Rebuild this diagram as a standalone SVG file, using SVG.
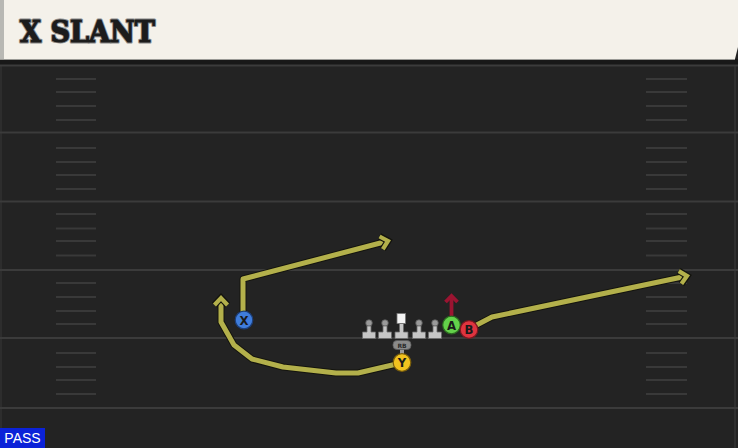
<svg xmlns="http://www.w3.org/2000/svg" width="738" height="448" viewBox="0 0 738 448">
<style>
.yard{stroke:#3b3b3b;stroke-width:2}
.hash{stroke:#393939;stroke-width:2}
.routeU{fill:none;stroke:#14140e;stroke-width:7;stroke-linejoin:round}
.route{fill:none;stroke:#b3b04b;stroke-width:5;stroke-linejoin:round}
.lbl{font-family:"DejaVu Sans Condensed","DejaVu Sans","Liberation Sans",sans-serif;font-weight:bold;font-size:13px;fill:#1a1a1a;text-anchor:middle}
.lm{fill:#c6c6c6;stroke:#6a6a6a;stroke-width:0.8}
</style>
<defs>
<marker id="arrO" viewBox="-12 -12 24 24" markerUnits="userSpaceOnUse" markerWidth="24" markerHeight="24" refX="0" refY="0" orient="auto" overflow="visible">
<path d="M-7,-6.5 L0,0 L-7,6.5" fill="none" stroke="#14140e" stroke-width="6.5" stroke-linejoin="miter"/>
<path d="M-7,-6.5 L0,0 L-7,6.5" fill="none" stroke="#b3b04b" stroke-width="4.2" stroke-linejoin="miter"/>
</marker>
<marker id="arrR" viewBox="-10 -10 20 20" markerUnits="userSpaceOnUse" markerWidth="20" markerHeight="20" refX="0" refY="0" orient="auto" overflow="visible">
<path d="M-6,-6 L0,0 L-6,6" fill="none" stroke="#9b1431" stroke-width="3.8" stroke-linejoin="miter"/>
</marker>
</defs>
<rect width="738" height="448" fill="#232323"/>
<rect x="0" y="59" width="738" height="6" fill="#181818"/>
<line x1="1" y1="65" x2="1" y2="448" stroke="#2d2d2d" stroke-width="2"/>
<line x1="735" y1="65" x2="735" y2="448" stroke="#2f2f2f" stroke-width="2"/>
<g id="field">
<line class="yard" x1="0" y1="65.5" x2="738" y2="65.5"/>
<line class="yard" x1="0" y1="132.5" x2="738" y2="132.5"/>
<line class="yard" x1="0" y1="201.5" x2="738" y2="201.5"/>
<line class="yard" x1="0" y1="270" x2="738" y2="270"/>
<line class="yard" x1="0" y1="338" x2="738" y2="338"/>
<line class="yard" x1="0" y1="408" x2="738" y2="408"/>
<g id="hashes-left">
<line class="hash" x1="56" y1="79" x2="96" y2="79"/><line class="hash" x1="56" y1="92" x2="96" y2="92"/><line class="hash" x1="56" y1="106" x2="96" y2="106"/><line class="hash" x1="56" y1="120" x2="96" y2="120"/>
<line class="hash" x1="56" y1="148" x2="96" y2="148"/><line class="hash" x1="56" y1="162" x2="96" y2="162"/><line class="hash" x1="56" y1="175" x2="96" y2="175"/><line class="hash" x1="56" y1="189" x2="96" y2="189"/>
<line class="hash" x1="56" y1="214" x2="96" y2="214"/><line class="hash" x1="56" y1="228.5" x2="96" y2="228.5"/><line class="hash" x1="56" y1="241" x2="96" y2="241"/><line class="hash" x1="56" y1="255.5" x2="96" y2="255.5"/>
<line class="hash" x1="56" y1="283" x2="96" y2="283"/><line class="hash" x1="56" y1="297" x2="96" y2="297"/><line class="hash" x1="56" y1="311" x2="96" y2="311"/><line class="hash" x1="56" y1="324" x2="96" y2="324"/>
<line class="hash" x1="56" y1="353" x2="96" y2="353"/><line class="hash" x1="56" y1="367" x2="96" y2="367"/><line class="hash" x1="56" y1="380" x2="96" y2="380"/><line class="hash" x1="56" y1="394" x2="96" y2="394"/>
</g>
<g id="hashes-right">
<line class="hash" x1="646" y1="79" x2="687" y2="79"/><line class="hash" x1="646" y1="92" x2="687" y2="92"/><line class="hash" x1="646" y1="106" x2="687" y2="106"/><line class="hash" x1="646" y1="120" x2="687" y2="120"/>
<line class="hash" x1="646" y1="148" x2="687" y2="148"/><line class="hash" x1="646" y1="162" x2="687" y2="162"/><line class="hash" x1="646" y1="175" x2="687" y2="175"/><line class="hash" x1="646" y1="189" x2="687" y2="189"/>
<line class="hash" x1="646" y1="214" x2="687" y2="214"/><line class="hash" x1="646" y1="228.5" x2="687" y2="228.5"/><line class="hash" x1="646" y1="241" x2="687" y2="241"/><line class="hash" x1="646" y1="255.5" x2="687" y2="255.5"/>
<line class="hash" x1="646" y1="283" x2="687" y2="283"/><line class="hash" x1="646" y1="297" x2="687" y2="297"/><line class="hash" x1="646" y1="311" x2="687" y2="311"/><line class="hash" x1="646" y1="324" x2="687" y2="324"/>
<line class="hash" x1="646" y1="353" x2="687" y2="353"/><line class="hash" x1="646" y1="367" x2="687" y2="367"/><line class="hash" x1="646" y1="380" x2="687" y2="380"/><line class="hash" x1="646" y1="394" x2="687" y2="394"/>
</g>
</g>
<g id="header">
<path d="M0,0 H738 V47 L735,59 H0 Z" fill="#f4f1ea"/>
<rect x="0" y="0" width="4" height="59" fill="#b8b8b4"/>
<line x1="0" y1="59.5" x2="735" y2="59.5" stroke="#9a9a96" stroke-width="1"/>
<text x="20" y="42" font-family="DejaVu Serif, Liberation Serif, serif" font-weight="bold" font-size="29" fill="#1c1c1c" stroke="#8c8c8c" stroke-width="3" stroke-linejoin="round" paint-order="stroke" textLength="135" lengthAdjust="spacingAndGlyphs">X SLANT</text>
<text x="20" y="42" font-family="DejaVu Serif, Liberation Serif, serif" font-weight="bold" font-size="29" fill="#1c1c1c" stroke="#1c1c1c" stroke-width="1" stroke-linejoin="round" textLength="135" lengthAdjust="spacingAndGlyphs">X SLANT</text>
</g>
<g id="connectors">
<path class="routeU" d="M243,320 V279 L388,241" marker-end="url(#arrO)"/>
<path class="route" d="M243,320 V279 L388,241" marker-end="url(#arrO)"/>
<path class="routeU" d="M401,363 L358,373 L336,373 L283,367 L252,359 L234,345 L221,322 L221,298" marker-end="url(#arrO)"/>
<path class="route" d="M401,363 L358,373 L336,373 L283,367 L252,359 L234,345 L221,322 L221,298" marker-end="url(#arrO)"/>
<path class="routeU" d="M469,329 L492,317 L687,276" marker-end="url(#arrO)"/>
<path class="route" d="M469,329 L492,317 L687,276" marker-end="url(#arrO)"/>
<path d="M451.5,316 V296" fill="none" stroke="#9b1431" stroke-width="3.8" marker-end="url(#arrR)"/>
</g>
<g id="line-LT"><circle cx="369" cy="323" r="3.3" fill="#9a9a9a" stroke="#555" stroke-width="0.8"/><path class="lm" d="M367,326 h4 v6 h4.5 v6.5 h-13 v-6.5 h4.5 z"/></g>
<g id="line-LG"><circle cx="385" cy="323" r="3.3" fill="#9a9a9a" stroke="#555" stroke-width="0.8"/><path class="lm" d="M383,326 h4 v6 h4.5 v6.5 h-13 v-6.5 h4.5 z"/></g>
<g id="line-C"><rect x="397" y="313.5" width="8.5" height="10" fill="#f4f4f4" stroke="#777" stroke-width="0.8"/><path class="lm" d="M399.5,323.5 h4 v8.5 h4.5 v6.5 h-13 v-6.5 h4.5 z"/></g>
<g id="line-RG"><circle cx="419" cy="323" r="3.3" fill="#9a9a9a" stroke="#555" stroke-width="0.8"/><path class="lm" d="M417,326 h4 v6 h4.5 v6.5 h-13 v-6.5 h4.5 z"/></g>
<g id="line-RT"><circle cx="435" cy="323" r="3.3" fill="#9a9a9a" stroke="#555" stroke-width="0.8"/><path class="lm" d="M433,326 h4 v6 h4.5 v6.5 h-13 v-6.5 h4.5 z"/></g>
<g id="RB">
<rect x="400" y="348" width="4" height="6" fill="#9a9a9a"/>
<rect x="393" y="340.5" width="18" height="9" rx="4" fill="#8a8a8a" stroke="#5a5a5a" stroke-width="0.8"/>
<text x="402" y="347.6" font-family="DejaVu Sans, Liberation Sans, sans-serif" font-size="6" font-weight="bold" fill="#2a2a2a" text-anchor="middle">RB</text>
</g>
<g id="X"><circle cx="244" cy="320" r="8.8" fill="#3f7ddc" stroke="#1c3e78" stroke-width="1.2"/><text class="lbl" x="244" y="324.8">X</text></g>
<g id="Y"><circle cx="402" cy="362.5" r="8.8" fill="#f1c21f" stroke="#7a5e0c" stroke-width="1.2"/><text class="lbl" x="402" y="367.3">Y</text></g>
<g id="A"><circle cx="451.5" cy="325" r="8.8" fill="#63d14a" stroke="#2c6a20" stroke-width="1.2"/><text class="lbl" x="451.5" y="329.8">A</text></g>
<g id="B"><circle cx="469" cy="329.5" r="8.8" fill="#e0343f" stroke="#7a1820" stroke-width="1.2"/><text class="lbl" x="469" y="334.3">B</text></g>
<g id="pass">
<rect x="0" y="428" width="45" height="20" fill="#0b22d8"/>
<text x="22.5" y="443" font-family="Liberation Sans, Arial, sans-serif" font-size="14" fill="#ffffff" text-anchor="middle">PASS</text>
</g>
</svg>
